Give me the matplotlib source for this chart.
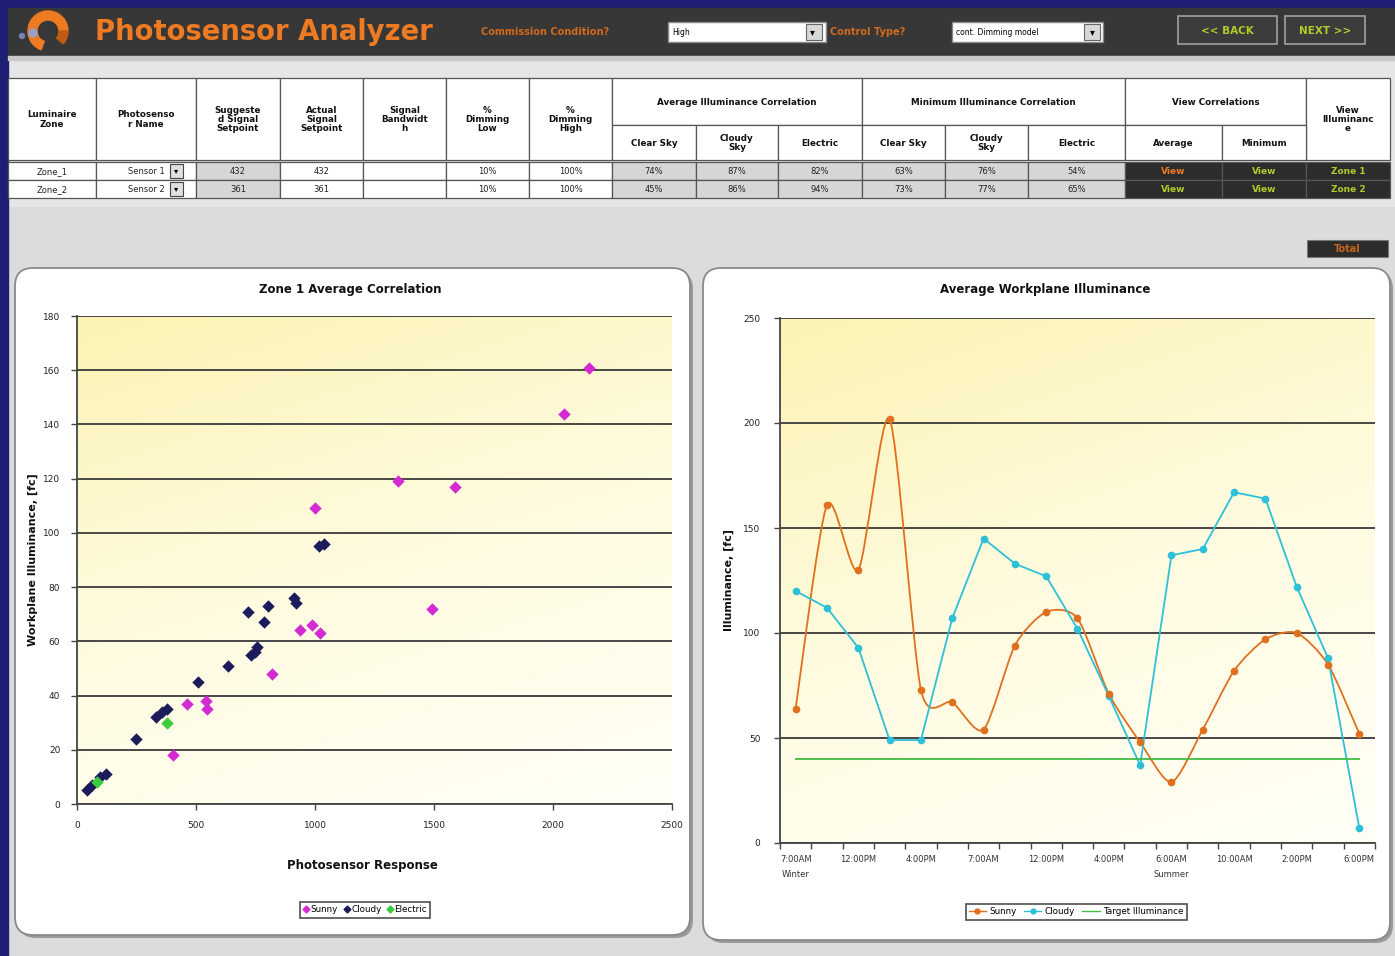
import numpy as np
import matplotlib
matplotlib.use("Agg")
import matplotlib.pyplot as plt
from matplotlib.patches import Rectangle, FancyBboxPatch, Wedge, Circle, PathPatch
from matplotlib.path import Path
from matplotlib.lines import Line2D
from matplotlib.colors import LinearSegmentedColormap

# ---------------- data ----------------
# Zone 1 Average Correlation (scatter)
sunny_x = [2151, 2046, 1349, 1588, 1000, 1492, 937, 987, 1021, 819, 462, 542, 546, 403]
sunny_y = [161, 144, 119, 117, 109, 72, 64, 66, 63, 48, 37, 38, 35, 18]
cloudy_x = [42, 63, 97, 122, 248, 332, 357, 378, 508, 634, 718, 731, 748, 756, 786, 802, 912, 920, 1017, 1038]
cloudy_y = [5, 7, 10, 11, 24, 32, 34, 35, 45, 51, 71, 55, 56, 58, 67, 73, 76, 74, 95, 96]
electric_x = [84, 378]
electric_y = [8, 30]

# Average Workplane Illuminance (lines)
time_labels = ["7:00AM\nWinter", "12:00PM", "4:00PM", "7:00AM", "12:00PM",
               "4:00PM", "6:00AM\nSummer", "10:00AM", "2:00PM", "6:00PM"]
sunny_fc = [64, 161, 130, 202, 73, 67, 54, 94, 110, 107, 71, 48, 29, 54, 82, 97, 100, 85, 52]
cloudy_fc = [120, 112, 93, 49, 49, 107, 145, 133, 127, 102, 70, 37, 137, 140, 167, 164, 122, 88, 7]
target_fc = [40, 40, 40, 40, 40, 40, 40, 40, 40, 40, 40, 40, 40, 40, 40, 40, 40, 40, 40]

# table
zones = ["Zone_1", "Zone_2"]
sensors = ["Sensor 1", "Sensor 2"]
suggested = ["432", "361"]
actual = ["432", "361"]
bandwidth = ["", ""]
dim_low = ["10%", "10%"]
dim_high = ["100%", "100%"]
avg_clear = ["74%", "45%"]
avg_cloudy = ["87%", "86%"]
avg_elec = ["82%", "94%"]
min_clear = ["63%", "73%"]
min_cloudy = ["76%", "77%"]
min_elec = ["54%", "65%"]

# ---------------- figure ----------------
W, H = 1395, 956
fig = plt.figure(figsize=(W / 100, H / 100), dpi=100)
fig.patch.set_facecolor('#dcdcdc')
bg = fig.add_axes([0, 0, 1, 1], zorder=0)
bg.set_xlim(0, W)
bg.set_ylim(H, 0)
bg.axis('off')

ORANGE = '#ee7a22'
LIME = '#b0cc2a'
bfont = dict(fontweight='bold', color='#111111')

# light area behind table
bg.add_patch(Rectangle((0, 56), W, 150, color='#e6e6e6', zorder=0))
# blue frame
bg.add_patch(Rectangle((0, 0), W, 8, color='#1e1e74', zorder=1))
bg.add_patch(Rectangle((0, 0), 8, H, color='#1e1e74', zorder=1))
# header bar
bg.add_patch(Rectangle((8, 8), W - 8, 48, color='#373737', zorder=1))
bg.add_patch(Rectangle((8, 56), W - 8, 4, color='#c8c8c8', zorder=1))

# logo
bg.add_patch(Wedge((48, 31), 20, 110, 360, width=9, color=ORANGE, zorder=2))
bg.add_patch(Wedge((48, 31), 20, 0, 40, width=9, color='#c05a10', zorder=2))
bg.add_patch(Circle((33, 33), 4, color='#9aa0c8', zorder=3))
bg.add_patch(Circle((22, 36), 2.5, color='#7a80b0', zorder=3))
bg.text(95, 32, "Photosensor Analyzer", fontsize=19.8, fontweight='bold',
        color=ORANGE, va='center', ha='left', zorder=3)

bg.text(481, 32, "Commission Condition?", fontsize=7, fontweight='bold',
        color='#d06a1c', va='center', ha='left', zorder=3)
bg.add_patch(Rectangle((668, 22), 158, 20, facecolor='white', edgecolor='#888', lw=1, zorder=2))
bg.add_patch(Rectangle((806, 24), 16, 16, facecolor='#d8d8d8', edgecolor='#666', lw=0.8, zorder=3))
bg.text(812, 32.5, "\u25be", fontsize=7, ha='center', va='center', zorder=4)
bg.text(672, 32.5, "High", fontsize=5.5, va='center', ha='left', zorder=3)
bg.text(830, 32, "Control Type?", fontsize=7, fontweight='bold',
        color='#d06a1c', va='center', ha='left', zorder=3)
bg.add_patch(Rectangle((952, 22), 151, 20, facecolor='white', edgecolor='#888', lw=1, zorder=2))
bg.add_patch(Rectangle((1084, 24), 16, 16, facecolor='#d8d8d8', edgecolor='#666', lw=0.8, zorder=3))
bg.text(1092, 32.5, "\u25be", fontsize=7, ha='center', va='center', zorder=4)
bg.text(956, 32.5, "cont. Dimming model", fontsize=5.5, va='center', ha='left', zorder=3)

for (x0, x1, lab) in [(1178, 1277, "<< BACK"), (1285, 1365, "NEXT >>")]:
    bg.add_patch(Rectangle((x0, 16), x1 - x0, 28, facecolor='#3c3c3c',
                           edgecolor='#a0a0a0', lw=1.2, zorder=2))
    bg.text((x0 + x1) / 2, 30.5, lab, fontsize=7.5, fontweight='bold', color=LIME,
            ha='center', va='center', zorder=3)

# ---------------- table ----------------
col_edges = [8, 96, 196, 280, 363, 446, 529, 612, 696, 778, 862, 945, 1028, 1125, 1222, 1306, 1390]
y_top, y_mid, y_hdr, y_r1, y_r2, y_bot = 78, 125, 160, 162, 180, 198
EDGE = '#555555'
TS = 6.3


def cell(x0, x1, y0, y1, txt, fc='white', color='#111', weight='bold', fs=TS):
    bg.add_patch(Rectangle((x0, y0), x1 - x0, y1 - y0, facecolor=fc, edgecolor=EDGE, lw=0.9, zorder=2))
    if txt:
        bg.text((x0 + x1) / 2, (y0 + y1) / 2 + 0.5, txt, fontsize=fs, fontweight=weight,
                color=color, ha='center', va='center', linespacing=1.05, zorder=3)


full_headers = ["Luminaire\nZone", "Photosenso\nr Name", "Suggeste\nd Signal\nSetpoint",
                "Actual\nSignal\nSetpoint", "Signal\nBandwidt\nh", "%\nDimming\nLow", "%\nDimming\nHigh"]
for i, h in enumerate(full_headers):
    cell(col_edges[i], col_edges[i + 1], y_top, y_hdr, h)
cell(col_edges[7], col_edges[10], y_top, y_mid, "Average Illuminance Correlation")
cell(col_edges[10], col_edges[13], y_top, y_mid, "Minimum Illuminance Correlation")
cell(col_edges[13], col_edges[15], y_top, y_mid, "View Correlations")
cell(col_edges[15], col_edges[16], y_top, y_hdr, "View\nIlluminanc\ne")
subs = ["Clear Sky", "Cloudy\nSky", "Electric", "Clear Sky", "Cloudy\nSky", "Electric", "Average", "Minimum"]
for j, s in enumerate(subs):
    cell(col_edges[7 + j], col_edges[8 + j], y_mid, y_hdr, s)

GRAYC = '#d6d6d6'
DARK = '#2c2c2c'
for r, (y0, y1) in enumerate([(y_r1, y_r2), (y_r2, y_bot)]):
    cell(col_edges[0], col_edges[1], y0, y1, zones[r], weight='normal', fs=6, color='#222')
    cell(col_edges[1], col_edges[2], y0, y1, sensors[r], weight='normal', fs=6, color='#222')
    bg.add_patch(Rectangle((170, y0 + 2), 13, y1 - y0 - 4, facecolor='#e0e0e0', edgecolor='#444', lw=0.8, zorder=3))
    bg.text(176.5, (y0 + y1) / 2, "\u25be", fontsize=6, ha='center', va='center', zorder=4)
    vals = [suggested[r], actual[r], bandwidth[r], dim_low[r], dim_high[r],
            avg_clear[r], avg_cloudy[r], avg_elec[r], min_clear[r], min_cloudy[r], min_elec[r]]
    fcs = [GRAYC, 'white', 'white', 'white', 'white'] + [GRAYC] * 6
    for k, (v, f) in enumerate(zip(vals, fcs)):
        cell(col_edges[2 + k], col_edges[3 + k], y0, y1, v, fc=f, weight='normal', fs=6, color='#222')
    btns = [("View", ORANGE if r == 0 else LIME), ("View", LIME), ("Zone %d" % (r + 1), LIME)]
    for k, (lab, c) in enumerate(btns):
        cell(col_edges[13 + k], col_edges[14 + k], y0, y1, lab, fc=DARK, color=c, fs=6.5)

# Total button
bg.add_patch(Rectangle((1307, 240), 81, 17, facecolor=DARK, edgecolor='#777', lw=0.8, zorder=2))
bg.text(1347.5, 248.5, "Total", fontsize=7, fontweight='bold', color='#c8641e',
        ha='center', va='center', zorder=3)

# ---------------- chart panels ----------------
for (x0, y0, w, h) in [(15, 268, 675, 667), (703, 268, 687, 672)]:
    bg.add_patch(FancyBboxPatch((x0 + 3, y0 + 3), w, h, boxstyle="round,pad=0,rounding_size=18",
                                facecolor='#9a9a9a', edgecolor='none', zorder=1))
    bg.add_patch(FancyBboxPatch((x0, y0), w, h, boxstyle="round,pad=0,rounding_size=18",
                                facecolor='white', edgecolor='#8a8a8a', lw=1.3, zorder=1.5))

bg.text(350, 289, "Zone 1 Average Correlation", fontsize=8.5, ha='center', va='center', zorder=3, **bfont)
bg.text(1045, 289, "Average Workplane Illuminance", fontsize=8.5, ha='center', va='center', zorder=3, **bfont)
bg.text(362, 866, "Photosensor Response", fontsize=8.5, ha='center', va='center', zorder=3, **bfont)
bg.text(33, 560, "Workplane Illuminance, [fc]", fontsize=8, rotation=90, ha='center', va='center', zorder=3, **bfont)
bg.text(729, 580, "Illuminance, [fc]", fontsize=8, rotation=90, ha='center', va='center', zorder=3, **bfont)

cmap = LinearSegmentedColormap.from_list('yel', ['#fbf3b4', '#fffbe0', '#fffff6'])


def gradient(ax):
    yy, xx = np.mgrid[0:1:200j, 0:1:200j]
    z = 0.8 * yy + 0.3 * xx
    ax.imshow(z, extent=[0, 1, 0, 1], transform=ax.transAxes, aspect='auto',
              cmap=cmap, zorder=-1, origin='upper', interpolation='bilinear')


def style(ax):
    ax.set_facecolor('none')
    for s in ['top', 'right']:
        ax.spines[s].set_visible(False)
    for s in ['left', 'bottom']:
        ax.spines[s].set_color('#444444')
        ax.spines[s].set_linewidth(1.3)
    ax.yaxis.grid(True, color='#3a3a3a', lw=1.3)
    ax.set_axisbelow(True)
    ax.tick_params(axis='both', which='major', direction='out', length=4, width=1,
                   color='#444', labelsize=6.5, labelcolor='#222')


# left scatter
axL = fig.add_axes([77 / W, 1 - 804 / H, 595 / W, 488 / H], zorder=2)
gradient(axL)
style(axL)
axL.set_xlim(0, 2500)
axL.set_ylim(0, 180)
axL.set_xticks(np.arange(0, 2501, 500))
axL.set_yticks(np.arange(0, 181, 20))
axL.tick_params(axis='x', pad=8)
axL.tick_params(axis='y', pad=8)
axL.scatter(cloudy_x, cloudy_y, marker='D', s=40, color='#1c1c5c', zorder=3, linewidths=0)
axL.scatter(sunny_x, sunny_y, marker='D', s=40, color='#d42ad4', zorder=3, linewidths=0)
axL.scatter(electric_x, electric_y, marker='D', s=40, color='#3ccc3c', zorder=4, linewidths=0)

hL = [Line2D([], [], marker='D', ls='none', color=c, markersize=3.5)
      for c in ['#d42ad4', '#1c1c5c', '#3ccc3c']]
legL = fig.legend(hL, ["Sunny", "Cloudy", "Electric"], loc='center', ncol=3,
                  bbox_to_anchor=(365 / W, 1 - 910 / H), fontsize=6.3, frameon=True,
                  fancybox=False, edgecolor='#222', handletextpad=0.1, columnspacing=0.6,
                  borderpad=0.35, handlelength=0.8)
legL.get_frame().set_linewidth(1.2)

# right line chart
axR = fig.add_axes([780 / W, 1 - 843 / H, 595 / W, 525 / H], zorder=2)
gradient(axR)
style(axR)
cats = np.arange(len(sunny_fc))
axR.set_xlim(-0.5, len(cats) - 0.5)
axR.set_ylim(0, 250)
axR.set_yticks(np.arange(0, 251, 50))
axR.set_xticks(np.arange(-0.5, len(cats), 1))
axR.set_xticklabels([])
axR.set_xticks(cats[::2], time_labels, minor=True)
axR.tick_params(axis='x', which='minor', length=0, labelsize=6, pad=9, labelcolor='#333')
axR.tick_params(axis='y', pad=10)
for lab in axR.get_xticklabels(minor=True):
    lab.set_linespacing(1.8)

# smoothed curve for sunny (cardinal spline -> cubic Bezier, like Excel's smoothed line)
pts = np.column_stack([cats, sunny_fc]).astype(float)
verts = [pts[0]]
codes = [Path.MOVETO]
for i in range(len(pts) - 1):
    p0 = pts[max(i - 1, 0)]
    p1 = pts[i]
    p2 = pts[i + 1]
    p3 = pts[min(i + 2, len(pts) - 1)]
    c1 = p1 + (p2 - p0) / 8.0
    c2 = p2 - (p3 - p1) / 8.0
    verts += [c1, c2, p2]
    codes += [Path.CURVE4] * 3
SUN = '#e0701e'
CLD = '#2ec0d8'
axR.add_patch(PathPatch(Path(verts, codes), facecolor='none', edgecolor=SUN, lw=1.3, zorder=3))
axR.plot(cats, sunny_fc, ls='none', marker='o', markersize=4.5, color=SUN, zorder=4)
axR.plot(cats, cloudy_fc, '-', marker='o', markersize=4.5, color=CLD, lw=1.3, zorder=3)
axR.plot(cats, target_fc, '-', color='#44bb44', lw=1.3, zorder=3)

hR = [Line2D([], [], color=SUN, marker='o', markersize=3.5, lw=1),
      Line2D([], [], color=CLD, marker='o', markersize=3.5, lw=1),
      Line2D([], [], color='#44bb44', lw=1)]
legR = fig.legend(hR, ["Sunny", "Cloudy", "Target Illuminance"], loc='center', ncol=3,
                  bbox_to_anchor=(1076 / W, 1 - 912 / H), fontsize=6.3, frameon=True,
                  fancybox=False, edgecolor='#222', handletextpad=0.4, columnspacing=0.8,
                  borderpad=0.35, handlelength=2.0)
legR.get_frame().set_linewidth(1.2)

fig.savefig("out.png", dpi=100, facecolor=fig.get_facecolor())
